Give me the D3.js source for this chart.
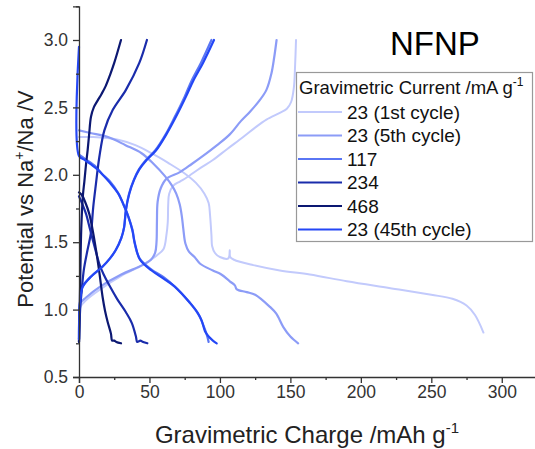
<!DOCTYPE html>
<html>
<head>
<meta charset="utf-8">
<script src="https://cdn.jsdelivr.net/npm/d3@7"></script>
<style>
  html, body { margin: 0; padding: 0; background: #fff; }
  svg { display: block; font-family: "Liberation Sans", Arial, sans-serif; }
</style>
</head>
<body>
<svg id="chart" width="535" height="449"></svg>
<script>
// Galvanostatic charge/discharge profiles, [capacity mAh/g, potential V]
const seriesNames = ["23 (1st cycle)", "23 (5th cycle)", "117", "234", "468", "23 (45th cycle)"];
const seriesColors = ["#c2cafc", "#8c9cf7", "#5a76f4", "#1a2cab", "#0c1872", "#2447f6"];

const charge1st = [[0,0.78],[0.3,0.95],[1,1.02],[5,1.07],[15,1.15],[30,1.25],[45,1.33],[55,1.40],[60,1.45],[62,1.55],[63,1.65],[63.3,1.78],[64,1.86],[67,1.92],[71.6,1.95],[76.4,1.98],[86,2.05],[95,2.11],[105,2.19],[116.5,2.28],[125,2.35],[133,2.41],[142.5,2.46],[147.5,2.49],[150.5,2.54],[152.5,2.65],[153.3,2.80],[154,3.0]];
const discharge1st = [[0,2.28],[10,2.28],[27.7,2.26],[40,2.22],[51.5,2.16],[63,2.09],[75,2.01],[83,1.94],[89,1.86],[92,1.79],[93,1.70],[94,1.55],[94.5,1.47],[96.5,1.42],[100,1.39],[106,1.38],[107,1.44],[107.3,1.39],[110,1.37],[123.6,1.33],[142.5,1.29],[163.8,1.26],[190,1.21],[220,1.16],[250,1.11],[265,1.08],[275,1.03],[281,0.96],[287,0.83]];

const charge5th = [[0,0.78],[0.3,0.98],[1,1.05],[5,1.09],[15,1.17],[30,1.26],[45,1.33],[51,1.37],[54,1.42],[55,1.50],[55.3,1.65],[55.8,1.80],[58,1.90],[62,1.97],[71.6,2.02],[80,2.08],[88,2.14],[98,2.22],[107,2.30],[115,2.40],[121.5,2.47],[128,2.55],[133,2.63],[136.5,2.75],[138.5,2.87],[140.2,3.0]];
const discharge5th = [[0,2.33],[8,2.31],[20.6,2.28],[33,2.22],[44.4,2.16],[53,2.08],[61,1.99],[66,1.92],[69,1.86],[71.5,1.78],[73,1.69],[74,1.60],[75.5,1.49],[78,1.43],[82,1.39],[86,1.34],[95,1.29],[101,1.26],[107,1.21],[110.6,1.18],[112,1.15],[119,1.13],[125,1.11],[135.5,1.02],[140,0.97],[145,0.87],[150,0.80],[155.5,0.75]];

const charge117 = [[0,0.78],[0.3,1.0],[1,1.08],[2.6,1.17],[9,1.25],[16.8,1.32],[22,1.38],[26,1.44],[30,1.53],[32,1.61],[33.3,1.74],[35.5,1.86],[38.8,1.96],[42.5,2.04],[47.5,2.11],[54,2.18],[61.5,2.30],[68,2.43],[75,2.58],[80,2.70],[86.5,2.83],[94,3.0]];
const discharge117 = [[0,2.15],[4,2.12],[12,2.06],[16,2.01],[22,1.95],[27.5,1.87],[31.5,1.78],[35,1.69],[38,1.59],[39.5,1.49],[43,1.38],[51,1.30],[60,1.24],[68,1.17],[78,1.06],[85,0.96],[88,0.89],[90.5,0.82],[92,0.76]];

const charge234 = [[0,0.76],[0.8,1.0],[2,1.15],[3.5,1.3],[6,1.44],[8.5,1.57],[10.1,1.76],[12,1.93],[14.4,2.13],[18,2.33],[23.9,2.48],[33.3,2.63],[42.8,2.83],[48.2,3.0]];
const discharge234 = [[0,1.84],[2.5,1.78],[5,1.71],[7.5,1.61],[9.7,1.52],[12,1.43],[14.4,1.34],[17.5,1.26],[21.5,1.18],[27,1.08],[33.3,0.98],[37.5,0.90],[40.4,0.80],[41.3,0.76],[43.5,0.77],[45.5,0.76],[48.5,0.75]];

const charge468 = [[0,0.76],[0.5,1.0],[1,1.3],[1.6,1.6],[2.8,1.85],[3.8,1.95],[5,2.08],[6.1,2.18],[7.2,2.30],[8.5,2.43],[10.5,2.50],[13.2,2.55],[16,2.60],[19,2.66],[22,2.74],[25,2.83],[29.8,3.0]];
const discharge468 = [[0,1.87],[2,1.85],[4.3,1.80],[7.3,1.71],[9.5,1.60],[11.5,1.48],[13,1.38],[14.4,1.28],[16.8,1.09],[18.5,0.99],[20.3,0.91],[22.7,0.82],[23.5,0.77],[25,0.77],[26.5,0.76],[29.8,0.75]];

const charge45th = [[0,0.78],[0.3,1.0],[1,1.08],[2.6,1.17],[9,1.25],[16.8,1.32],[22,1.38],[26,1.44],[30,1.53],[32,1.61],[33.3,1.74],[35.7,1.86],[39,1.96],[42.8,2.04],[48,2.11],[54.6,2.18],[62,2.30],[68.8,2.43],[75.9,2.58],[81.2,2.70],[88,2.83],[95.8,3.0]];
const discharge45th = [[0,2.95],[0,2.14],[4,2.11],[12,2.05],[16,2.01],[22,1.94],[27.9,1.86],[32,1.77],[35,1.69],[37.8,1.59],[39.7,1.49],[43.3,1.37],[51.5,1.29],[60,1.23],[68,1.17],[78.7,1.05],[84,0.98],[87,0.92],[89.4,0.84],[92,0.80],[95,0.77],[97.7,0.75]];

const seriesData = [
  [charge1st, discharge1st],
  [charge5th, discharge5th],
  [charge117, discharge117],
  [charge234, discharge234],
  [charge468, discharge468],
  [charge45th, discharge45th]
];

const xTicks = [0, 50, 100, 150, 200, 250, 300];
const yTicks = [0.5, 1.0, 1.5, 2.0, 2.5, 3.0];

const svg = d3.select("#chart");
const x = d3.scaleLinear().domain([0, 325]).range([79, 537]);
const y = d3.scaleLinear().domain([0.5, 3.25]).range([377, 6.3]);

// curves
const line = d3.line()
  .x(d => x(d[0]))
  .y(d => y(d[1]))
  .curve(d3.curveCatmullRom.alpha(0.5));

const plot = svg.append("g");
seriesData.forEach((pair, i) => {
  pair.forEach(pts => {
    plot.append("path")
      .attr("d", line(pts))
      .attr("fill", "none")
      .attr("stroke", seriesColors[i])
      .attr("stroke-width", i === 0 ? 2 : 2.2)
      .attr("stroke-linejoin", "round")
      .attr("stroke-linecap", "round");
  });
});

// axes
const axisColor = "#333";
svg.append("g").attr("transform", `translate(0,${y(0.5)})`)
  .call(d3.axisBottom(x).tickValues(xTicks).tickFormat(d3.format("d")).tickSize(6).tickPadding(3));
svg.append("g").attr("transform", `translate(0,${y(0.5)})`)
  .call(d3.axisBottom(x).tickValues(d3.range(25, 326, 50)).tickFormat("").tickSize(3))
  .select(".domain").remove();
svg.append("g").attr("transform", `translate(${x(0)},0)`)
  .call(d3.axisLeft(y).tickValues(yTicks).tickFormat(d3.format(".1f")).tickSize(6).tickPadding(5));
svg.append("g").attr("transform", `translate(${x(0)},0)`)
  .call(d3.axisLeft(y).tickValues([0.75, 1.25, 1.75, 2.25, 2.75, 3.25]).tickFormat("").tickSize(3))
  .select(".domain").remove();

svg.selectAll(".domain").attr("stroke", axisColor).attr("stroke-width", 1.3);
svg.selectAll(".tick line").attr("stroke", axisColor).attr("stroke-width", 1.3);
svg.selectAll(".tick text").attr("fill", "#333").style("font-size", "17.5px")
  .style("font-family", "'Liberation Sans', Arial, sans-serif");

// axis titles
const xt = svg.append("text")
  .attr("x", 307).attr("y", 443)
  .attr("text-anchor", "middle")
  .attr("fill", "#222")
  .style("font-size", "24px");
xt.append("tspan").text("Gravimetric Charge /mAh g");
xt.append("tspan").attr("dy", -10).style("font-size", "15px").text("-1");

const yt = svg.append("text")
  .attr("transform", "translate(33,199) rotate(-90)")
  .attr("text-anchor", "middle")
  .attr("fill", "#222")
  .style("font-size", "22px");
yt.append("tspan").text("Potential vs Na");
yt.append("tspan").attr("dy", -9).style("font-size", "14px").text("+");
yt.append("tspan").attr("dy", 9).text("/Na /V");

// sample label
svg.append("text")
  .attr("x", 390).attr("y", 55)
  .attr("fill", "#000")
  .style("font-size", "33px")
  .text("NFNP");

// legend
const legend = svg.append("g");
legend.append("rect")
  .attr("x", 296.5).attr("y", 72.5)
  .attr("width", 236).attr("height", 169)
  .attr("fill", "#fff")
  .attr("stroke", "#999").attr("stroke-width", 1.2);
const lt = legend.append("text")
  .attr("x", 299).attr("y", 94)
  .attr("fill", "#111")
  .style("font-size", "18.5px");
lt.append("tspan").text("Gravimetric Current /mA g");
lt.append("tspan").attr("dy", -8).style("font-size", "12px").text("-1");

seriesNames.forEach((name, i) => {
  const cy = 112 + i * 23.5;
  legend.append("line")
    .attr("x1", 298).attr("x2", 342)
    .attr("y1", cy).attr("y2", cy)
    .attr("stroke", seriesColors[i]).attr("stroke-width", 2.2);
  legend.append("text")
    .attr("x", 347).attr("y", cy + 6.5)
    .attr("fill", "#111")
    .style("font-size", "19px")
    .text(name);
});
</script>
</body>
</html>
